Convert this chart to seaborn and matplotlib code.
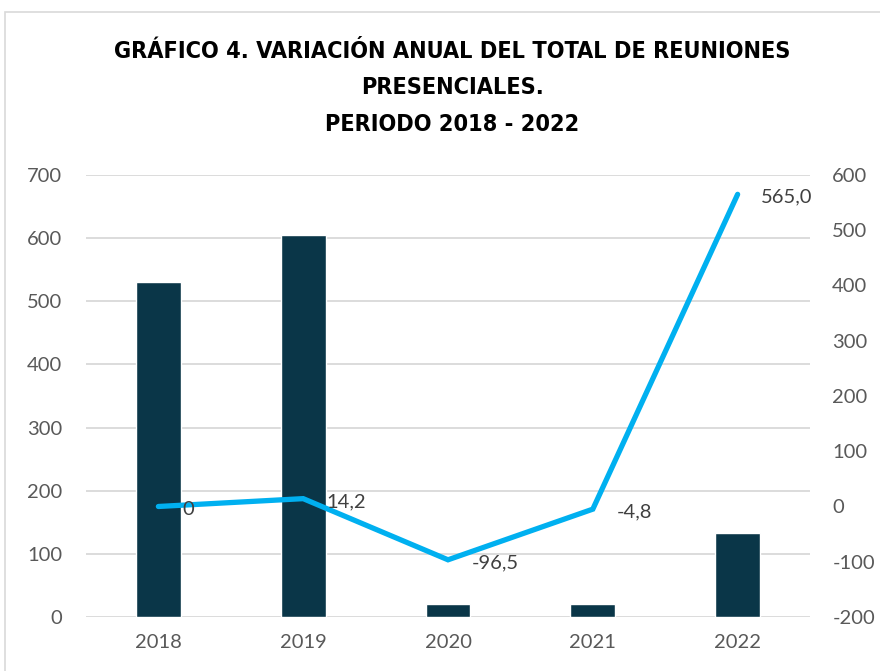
import matplotlib
matplotlib.use("Agg")
import matplotlib.pyplot as plt
from matplotlib import font_manager
from matplotlib.patches import Rectangle
import seaborn as sns
import pandas as pd

years = ["2018", "2019", "2020", "2021", "2022"]
reuniones = [530, 605, 21, 20, 133]
variacion = [0.0, 14.2, -96.5, -4.8, 565.0]
variacion_labels = ["0", "14,2", "-96,5", "-4,8", "565,0"]
left_ticks = [0, 100, 200, 300, 400, 500, 600, 700]
right_ticks = [-200, -100, 0, 100, 200, 300, 400, 500, 600]
title_lines = "GRÁFICO 4. VARIACIÓN ANUAL DEL TOTAL DE REUNIONES\nPRESENCIALES.\nPERIODO 2018 - 2022"

sns.set_theme(style="white")
plt.rcParams["font.family"] = ["Lato", "DejaVu Sans"]
plt.rcParams["axes.unicode_minus"] = False

names = {f.name for f in font_manager.fontManager.ttflist}
title_family = "Liberation Sans Narrow" if "Liberation Sans Narrow" in names else "DejaVu Sans"

df = pd.DataFrame({"year": years, "reuniones": reuniones, "variacion": variacion})

fig = plt.figure(figsize=(8.8, 6.71), dpi=100)
ax = fig.add_axes([0.0977, 0.0805, 0.8228, 0.6587])

sns.barplot(data=df, x="year", y="reuniones", color="#0A3648", width=0.31,
            saturation=1, ax=ax, zorder=2)
ax.set_ylim(0, 700)
ax.set_yticks(left_ticks)
ax.set_xlim(-0.5, 4.5)
ax.grid(axis="y", color="#D9D9D9", linewidth=1.3, zorder=0)
ax.set_axisbelow(True)
ax.set_xlabel("")
ax.set_ylabel("")
for s in ax.spines.values():
    s.set_visible(False)
ax.tick_params(axis="both", length=0, labelsize=14.5, labelcolor="#595959")
ax.tick_params(axis="x", pad=12)
ax.tick_params(axis="y", pad=17)

ax2 = ax.twinx()
xpos = list(range(len(years)))
sns.lineplot(x=xpos, y=variacion, ax=ax2, color="#00B0F0", linewidth=3.8,
             solid_capstyle="round", solid_joinstyle="miter", zorder=3)
ax2.set_ylim(-200, 600)
ax2.set_yticks(right_ticks)
ax2.set_xlim(-0.5, 4.5)
ax2.grid(False)
for s in ax2.spines.values():
    s.set_visible(False)
ax2.tick_params(axis="y", length=0, labelsize=14.5, labelcolor="#595959", pad=16)
ax2.set_ylabel("")

for x, y, lab in zip(xpos, variacion, variacion_labels):
    ax2.annotate(lab, (x, y), xytext=(17, -2), textcoords="offset points",
                 ha="left", va="center", fontsize=14.5, color="#404040")

fig.text(0.514, 0.869, title_lines, ha="center", va="center", fontsize=16.8,
         fontweight="bold", family=title_family, stretch="condensed",
         color="black", linespacing=1.75)

fig.patches.append(Rectangle((5 / 880, -0.01), 2, 1 - 12 / 671 + 0.01,
                             transform=fig.transFigure, fill=False,
                             edgecolor="#D9D9D9", linewidth=1.2))

fig.savefig("out.png", dpi=100)
